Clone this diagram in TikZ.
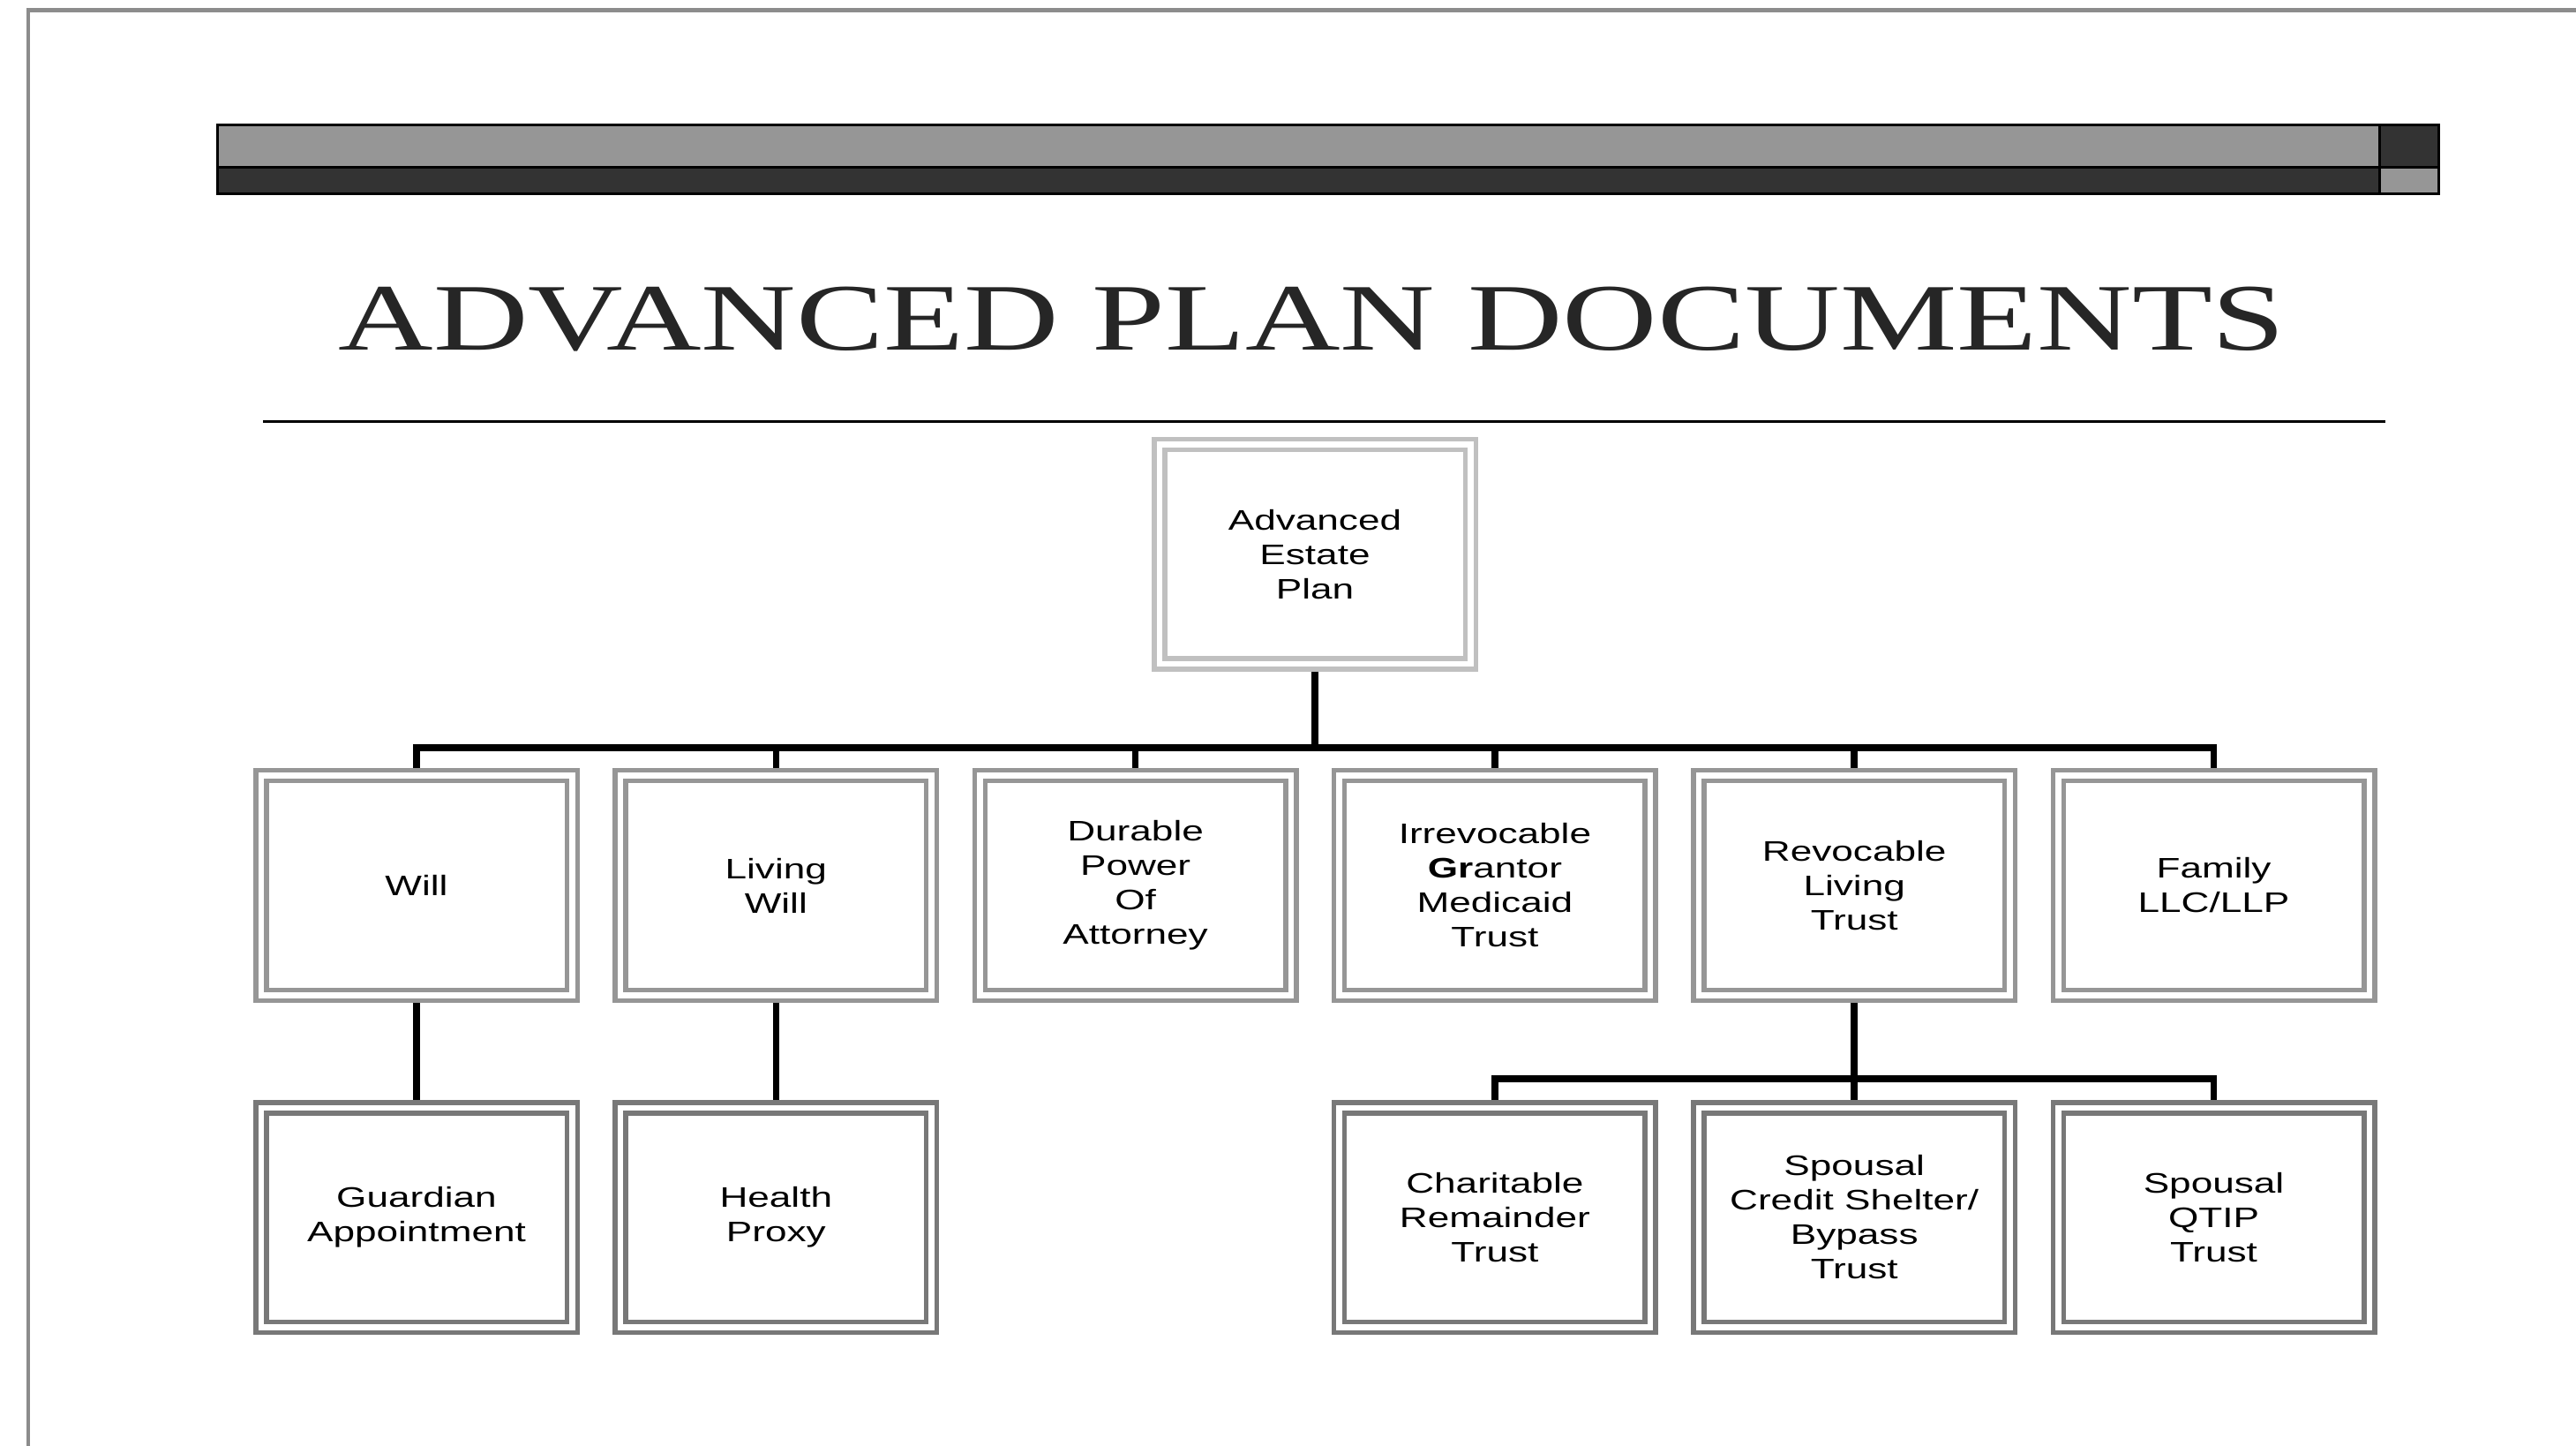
\documentclass[tikz,border=0pt]{standalone}
\usepackage{fontspec}
\newfontfamily\boxfont[FakeStretch=1.38]{Liberation Sans}
\newfontfamily\titlefont[FakeStretch=1.38]{Liberation Serif}
\usetikzlibrary{positioning}
\definecolor{framegray}{HTML}{8C8C8C}
\definecolor{bargray}{HTML}{969696}
\definecolor{bardark}{HTML}{333333}
\definecolor{topgray}{HTML}{C0C0C0}
\definecolor{midgray}{HTML}{969696}
\definecolor{lowgray}{HTML}{787878}
\definecolor{titleink}{HTML}{262626}
\tikzset{
    %Define style for boxes
    docbox/.style={
           rectangle,
           draw=midgray,
           line width=0.055cm,
           double=white,
           double distance=0.065cm,
           fill=white,
           minimum width=3.525cm,
           minimum height=2.485cm,
           inner sep=0pt,
           outer sep=0.0875cm,
           align=center,
           font=\boxfont\fontsize{9.1pt}{11.1pt}\selectfont,
           text=black},
    topbox/.style={docbox, draw=topgray},
    midbox/.style={docbox, draw=midgray},
    lowbox/.style={docbox, draw=lowgray},
    % Define connector style
    conn/.style={
           line width=0.075cm,
           draw=black},
    barpart/.style={
           draw=black,
           line width=0.03cm}
}
\begin{document}
\begin{tikzpicture}[node distance=1.1cm and 0.373cm]
\useasboundingbox (0,0) rectangle (29.19,-16.38);
 %slide frame and header bar
\draw[framegray, line width=0.045cm] (29.19,-0.115) -- (0.32,-0.115) -- (0.32,-16.38);
\draw[barpart, fill=bargray] (2.46,-1.42) rectangle (26.96,-1.90);
\draw[barpart, fill=bardark] (2.46,-1.90) rectangle (26.96,-2.20);
\draw[barpart, fill=bardark] (26.96,-1.42) rectangle (27.63,-1.90);
\draw[barpart, fill=bargray] (26.96,-1.90) rectangle (27.63,-2.20);
 %title
\node[anchor=base, text=titleink, font=\titlefont\fontsize{30.7pt}{36pt}\selectfont] (title) at (14.87,-3.97) {ADVANCED PLAN DOCUMENTS};
\draw[line width=0.03cm] (2.98,-4.78) -- (27.03,-4.78);
 %nodes
\node[topbox] (plan) at (14.90,-6.28) {Advanced\\Estate\\Plan};
\node[midbox] (will) at (4.72,-10.03) {Will};
\node[midbox, right=of will] (living) {Living\\Will};
\node[midbox, right=of living] (durable) {Durable\\Power\\Of\\Attorney};
\node[midbox, right=of durable] (irrev) {Irrevocable\\\textbf{Gr}antor\\Medicaid\\Trust};
\node[midbox, right=of irrev] (revoc) {Revocable\\Living\\Trust};
\node[midbox, right=of revoc] (family) {Family\\LLC/LLP};
\node[lowbox, below=of will] (guardian) {Guardian\\Appointment};
\node[lowbox, below=of living] (proxy) {Health\\Proxy};
\node[lowbox, below=of irrev] (charity) {Charitable\\Remainder\\Trust};
\node[lowbox, below=of revoc] (bypass) {Spousal\\Credit Shelter/\\Bypass\\Trust};
\node[lowbox, below=of family] (qtip) {Spousal\\QTIP\\Trust};
 %connectors
\draw[conn] (plan.south) -- ++(0,-0.86) coordinate (split);
\draw[conn] (will.north) |- (split) -| (family.north);
\foreach \n in {living,durable,irrev,revoc}
    \draw[conn] (\n.north) -- (\n.north |- split);
\draw[conn] (will.south) -- (guardian.north);
\draw[conn] (living.south) -- (proxy.north);
\draw[conn] (revoc.south) -- ++(0,-0.86) coordinate (trustsplit);
\draw[conn] (charity.north) |- (trustsplit) -| (qtip.north);
\draw[conn] (bypass.north) -- (bypass.north |- trustsplit);
\end{tikzpicture}
\end{document}
